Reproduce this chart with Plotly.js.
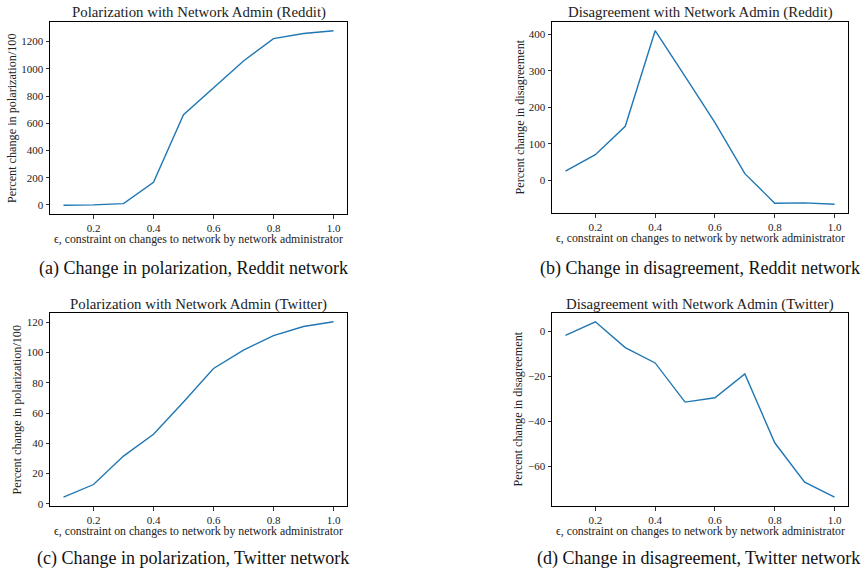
<!DOCTYPE html>
<html>
<head>
<meta charset="utf-8">
<script src="https://cdn.plot.ly/plotly-3.0.1.min.js"></script>
<style>html,body{margin:0;padding:0;background:#fff;}#chart{width:867px;height:576px;}</style>
</head>
<body>
<div id="chart"></div>
<script>
// ---- data ----
const epsilon = [0.1, 0.2, 0.3, 0.4, 0.5, 0.6, 0.7, 0.8, 0.9, 1.0];
const redditPolarization = [-3, 0, 9, 166, 663, 862, 1058, 1222, 1260, 1280];
const redditDisagreement = [25, 70, 148, 410, 285, 158, 18, -63, -62, -66];
const twitterPolarization = [4.4, 12.8, 31.6, 46, 67.4, 89.5, 101.7, 111.2, 117.3, 120.4];
const twitterDisagreement = [-1.8, 4.2, -7.3, -14.1, -31.5, -29.6, -19, -49.6, -67.1, -73.8];
const xTicks = [0.2, 0.4, 0.6, 0.8, 1.0];
const xTickText = ["0.2", "0.4", "0.6", "0.8", "1.0"];
const ticksA = [0, 200, 400, 600, 800, 1000, 1200];
const ticksB = [0, 100, 200, 300, 400];
const ticksC = [0, 20, 40, 60, 80, 100, 120];
const ticksD = [0, -20, -40, -60];
const titles = ["Polarization with Network Admin (Reddit)", "Disagreement with Network Admin (Reddit)",
                "Polarization with Network Admin (Twitter)", "Disagreement with Network Admin (Twitter)"];
const yLabels = ["Percent change in polarization/100", "Percent change in disagreement",
                 "Percent change in polarization/100", "Percent change in disagreement"];
const xLabel = "ϵ, constraint on changes to network by network administrator";
const captions = ["(a) Change in polarization, Reddit network", "(b) Change in disagreement, Reddit network",
                  "(c) Change in polarization, Twitter network", "(d) Change in disagreement, Twitter network"];

const W = 867, H = 576;
const FONT = "Liberation Serif, DejaVu Serif, serif";
const series = [redditPolarization, redditDisagreement, twitterPolarization, twitterDisagreement];
const yTicks = [ticksA, ticksB, ticksC, ticksD];
// plot boxes in pixels [left, right, top, bottom]
const boxes = [[50, 347, 22, 214], [552, 848, 22, 213], [50, 347, 313, 506], [552, 848, 313, 506]];
const yLabelX = [12, 519, 16, 517];
const captionPos = [[193, 268], [700, 268], [193, 558], [698, 558]];

function padRange(v) {
  const mn = Math.min(...v), mx = Math.max(...v), d = (mx - mn) * 0.05;
  return [mn - d, mx + d];
}

const data = [];
const layout = {
  width: W, height: H, margin: {l: 0, r: 0, t: 0, b: 0},
  paper_bgcolor: "#fff", plot_bgcolor: "#fff", showlegend: false,
  annotations: []
};

for (let i = 0; i < 4; i++) {
  const n = i === 0 ? "" : String(i + 1);
  const b = boxes[i];
  data.push({
    x: epsilon, y: series[i], type: "scatter", mode: "lines",
    xaxis: "x" + n, yaxis: "y" + n,
    line: {color: "#1f77b4", width: 1.4}, hoverinfo: "x+y"
  });
  const common = {
    showline: true, mirror: true, linecolor: "#000", linewidth: 1,
    ticks: "outside", ticklen: 3.5, tickwidth: 0.8, tickcolor: "#000",
    showgrid: false, zeroline: false,
    tickfont: {family: FONT, size: 11, color: "#222"}
  };
  layout["xaxis" + n] = Object.assign({}, common, {
    domain: [b[0] / W, b[1] / W], anchor: "y" + n,
    range: [0.055, 1.045], tickmode: "array", tickvals: xTicks, ticktext: xTickText
  });
  layout["yaxis" + n] = Object.assign({}, common, {
    domain: [1 - b[3] / H, 1 - b[2] / H], anchor: "x" + n,
    range: padRange(series[i]), tickmode: "array", tickvals: yTicks[i]
  });
  const cx = (b[0] + b[1]) / 2;
  layout.annotations.push({
    text: titles[i], xref: "paper", yref: "paper", x: cx / W, y: 1 - (b[2] - 9) / H,
    showarrow: false, xanchor: "center", yanchor: "middle",
    font: {family: FONT, size: 14.8, color: "#222"}
  });
  layout.annotations.push({
    text: xLabel, xref: "paper", yref: "paper", x: cx / W, y: 1 - (b[3] + 25) / H,
    showarrow: false, xanchor: "center", yanchor: "middle",
    font: {family: FONT, size: 11.8, color: "#222"}
  });
  layout.annotations.push({
    text: yLabels[i], xref: "paper", yref: "paper", x: yLabelX[i] / W, y: 1 - ((b[2] + b[3]) / 2) / H,
    showarrow: false, xanchor: "center", yanchor: "middle", textangle: -90,
    font: {family: FONT, size: 12.2, color: "#222"}
  });
  layout.annotations.push({
    text: captions[i], xref: "paper", yref: "paper", x: captionPos[i][0] / W, y: 1 - captionPos[i][1] / H,
    showarrow: false, xanchor: "center", yanchor: "middle",
    font: {family: FONT, size: 18, color: "#111"}
  });
}

Plotly.newPlot("chart", data, layout, {staticPlot: true, displayModeBar: false});
</script>
</body>
</html>
